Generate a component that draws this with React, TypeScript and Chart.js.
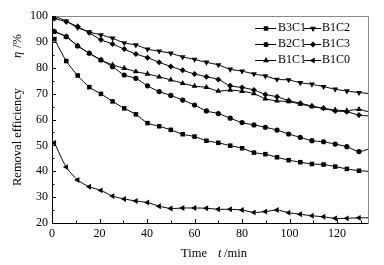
import React, { useEffect, useRef } from "react";
import { Chart, registerables } from "chart.js";

Chart.register(...registerables);

const times = [1, 6, 10.8, 15.7, 20.6, 25.5, 30.4, 35.3, 40.2, 45.1, 50, 55, 60, 65, 70, 75, 80, 85, 89.8, 94.7, 99.6, 104.5, 109.4, 114.3, 119.2, 124.1, 129.2, 133];

const seriesLabels = ["B3C1", "B1C2", "B2C1", "B1C3", "B1C1", "B1C0"];

const b3c1 = [91.1, 82.6, 77.0, 72.5, 69.9, 67.0, 64.3, 62.0, 58.6, 57.4, 56.0, 54.3, 53.4, 51.8, 51.0, 49.9, 48.9, 47.2, 46.6, 45.4, 44.3, 43.5, 42.8, 42.6, 41.8, 40.9, 40.2, 40.0];
const b1c2 = [100, 98, 95.5, 93.8, 92.7, 91.4, 89.6, 88.8, 87.2, 86.4, 85.6, 84.2, 83.2, 82.1, 81.1, 79.4, 78.7, 77.6, 76.8, 75.5, 75.3, 74.2, 73.6, 72.7, 71.7, 71.0, 70.4, 70.1];
const b2c1 = [94, 92, 88.4, 85.6, 83.0, 80.4, 77.2, 75.9, 73.0, 70.8, 69.3, 67.5, 65.6, 63.3, 62.3, 60.5, 58.8, 57.9, 57.0, 55.9, 54.4, 53.1, 51.8, 51.4, 50.5, 49.5, 47.6, 48.5];
const b1c3 = [99, 97.8, 95.9, 93.5, 90.8, 89.2, 87.2, 85.3, 83.9, 82.1, 80.5, 79.0, 77.6, 76.5, 75.5, 73.0, 72.4, 71.4, 69.7, 68.8, 67.3, 66.3, 65.2, 64.3, 63.3, 63.0, 61.7, 61.4];
const b1c1 = [94, 92, 88.5, 85.6, 83.0, 81.1, 79.8, 78.5, 77.6, 76.5, 75.3, 74.0, 72.9, 72.4, 71.0, 71.4, 70.9, 70.0, 68.0, 67.2, 66.9, 66.0, 65.0, 64.3, 63.7, 63.4, 63.9, 63.0];
const b1c0 = [51.0, 41.6, 36.6, 34.0, 32.6, 30.4, 29.3, 28.5, 27.9, 26.5, 25.6, 25.8, 25.8, 25.7, 25.3, 25.3, 25.0, 24.1, 24.4, 25.0, 24.0, 23.4, 22.8, 22.4, 21.8, 21.8, 22.0, 22.0];

const seriesValues = [b3c1, b1c2, b2c1, b1c3, b1c1, b1c0];
const markerStyles = ["rect", "triangle", "circle", "rectRot", "triangle", "triangle"];
const markerRotations = [0, 180, 0, 0, 0, 270];
const markerRadii = [3.2, 3.4, 2.6, 3.0, 3.4, 3.4];

const xTicks = [0, 20, 40, 60, 80, 100, 120];
const yTicks = [20, 30, 40, 50, 60, 70, 80, 90, 100];

const FONT = "'Liberation Serif', 'Times New Roman', serif";

function drawMarker(ctx: CanvasRenderingContext2D, style: string, rot: number, r: number, x: number, y: number) {
  ctx.save();
  ctx.translate(x, y);
  ctx.rotate((rot * Math.PI) / 180);
  ctx.beginPath();
  if (style === "rect") {
    const s = Math.SQRT1_2 * r;
    ctx.rect(-s, -s, 2 * s, 2 * s);
  } else if (style === "rectRot") {
    ctx.moveTo(0, -r);
    ctx.lineTo(r, 0);
    ctx.lineTo(0, r);
    ctx.lineTo(-r, 0);
    ctx.closePath();
  } else if (style === "circle") {
    ctx.arc(0, 0, r, 0, Math.PI * 2);
  } else {
    for (let k = 0; k < 3; k++) {
      const a = (k * 2 * Math.PI) / 3;
      const px = Math.sin(a) * r;
      const py = -Math.cos(a) * r;
      if (k === 0) ctx.moveTo(px, py);
      else ctx.lineTo(px, py);
    }
    ctx.closePath();
  }
  ctx.fillStyle = "#000";
  ctx.fill();
  ctx.restore();
}

const decorPlugin = {
  id: "decor",
  afterDraw(chart: any) {
    const ctx: CanvasRenderingContext2D = chart.ctx;
    const { left, right, top, bottom } = chart.chartArea;
    const xs = chart.scales.x;
    const ys = chart.scales.y;
    ctx.save();
    // frame
    ctx.lineWidth = 1;
    ctx.strokeStyle = "#8a8a8a";
    ctx.beginPath();
    ctx.moveTo(left, top + 0.5);
    ctx.lineTo(right + 0.5, top + 0.5);
    ctx.lineTo(right + 0.5, bottom);
    ctx.stroke();
    ctx.strokeStyle = "#000";
    ctx.beginPath();
    ctx.moveTo(left + 0.5, top);
    ctx.lineTo(left + 0.5, bottom + 0.5);
    ctx.lineTo(right + 0.5, bottom + 0.5);
    ctx.stroke();
    // ticks
    ctx.beginPath();
    for (let v = 0; v <= 130; v += 10) {
      const px = Math.round(xs.getPixelForValue(v)) + 0.5;
      const len = v % 20 === 0 ? 4 : 2.5;
      ctx.moveTo(px, bottom);
      ctx.lineTo(px, bottom - len);
    }
    for (let v = 20; v <= 100; v += 5) {
      const py = Math.round(ys.getPixelForValue(v)) + 0.5;
      const len = v % 10 === 0 ? 4 : 2.5;
      ctx.moveTo(left, py);
      ctx.lineTo(left + len, py);
    }
    ctx.stroke();
    // legend
    const colLine = [[255, 276, 266, 278], [304, 321, 313, 322]];
    const rowY = [28, 44, 60];
    ctx.font = `12px ${FONT}`;
    ctx.textBaseline = "middle";
    ctx.textAlign = "left";
    ctx.fillStyle = "#000";
    seriesLabels.forEach((lab, i) => {
      const c = colLine[i % 2];
      const y = rowY[Math.floor(i / 2)];
      ctx.beginPath();
      ctx.moveTo(c[0], y + 0.5);
      ctx.lineTo(c[1], y + 0.5);
      ctx.stroke();
      drawMarker(ctx, markerStyles[i], markerRotations[i], markerRadii[i], c[2], y + 0.5);
      ctx.fillText(lab, c[3], y);
    });
    // x title
    ctx.font = `12.5px ${FONT}`;
    ctx.fillText("Time", 181, 254);
    ctx.font = `italic 12.5px ${FONT}`;
    ctx.fillText("t", 218, 254);
    ctx.font = `12.5px ${FONT}`;
    ctx.fillText("/min", 224, 254);
    // y title
    ctx.translate(18, 186);
    ctx.rotate(-Math.PI / 2);
    ctx.font = `12.5px ${FONT}`;
    ctx.fillText("Removal efficiency", 0, 0);
    ctx.font = `italic 12.5px ${FONT}`;
    ctx.fillText("η", 128, 0);
    ctx.font = `12.5px ${FONT}`;
    ctx.fillText("/%", 138, 0);
    ctx.restore();
  },
};

export default function App() {
  const ref = useRef<HTMLCanvasElement | null>(null);
  useEffect(() => {
    document.body.style.margin = "0";
    if (!ref.current) return;
    const lastIdx = times.length - 1;
    const chart = new Chart(ref.current, {
      type: "line",
      data: {
        datasets: seriesValues.map((vals, i) => ({
          label: seriesLabels[i],
          data: vals.map((v, j) => ({ x: times[j], y: v })),
          borderColor: "#000",
          backgroundColor: "#000",
          borderWidth: 1,
          tension: 0.25,
          pointStyle: markerStyles[i] as any,
          pointRotation: markerRotations[i],
          pointRadius: vals.map((_, j) => (j === lastIdx ? 0 : markerRadii[i])),
          pointBorderWidth: 0,
          pointBackgroundColor: "#000",
        })),
      },
      options: {
        responsive: false,
        animation: false,
        layout: { padding: { top: 16, right: 16, left: 0, bottom: 0 } },
        plugins: { legend: { display: false }, tooltip: { enabled: false } },
        scales: {
          x: {
            type: "linear",
            min: 0,
            max: 133,
            afterBuildTicks: (s: any) => {
              s.ticks = xTicks.map((v) => ({ value: v }));
            },
            afterFit: (s: any) => {
              s.height = 42;
            },
            grid: { display: false, drawTicks: false },
            border: { display: false },
            ticks: { color: "#000", padding: 4, font: { family: FONT, size: 12 }, maxRotation: 0 },
          },
          y: {
            min: 20,
            max: 100,
            afterBuildTicks: (s: any) => {
              s.ticks = yTicks.map((v) => ({ value: v }));
            },
            afterFit: (s: any) => {
              s.width = 52;
            },
            grid: { display: false, drawTicks: false },
            border: { display: false },
            ticks: { color: "#000", padding: 4, font: { family: FONT, size: 12 } },
          },
        },
      },
      plugins: [decorPlugin],
    });
    return () => chart.destroy();
  }, []);
  return <canvas ref={ref} width={384} height={265} style={{ display: "block" }} />;
}
